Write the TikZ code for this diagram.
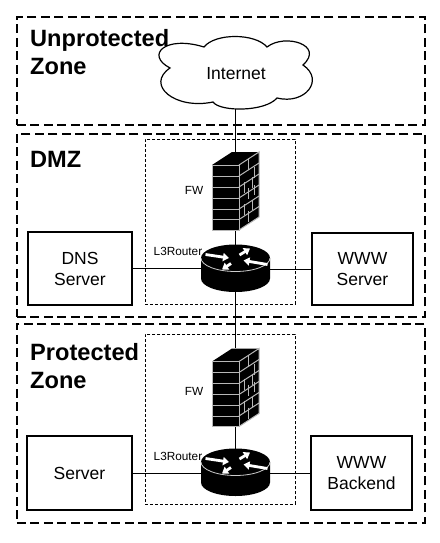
\documentclass[tikz,border=0pt]{standalone}
\usepackage{fontspec}
\setmainfont{Liberation Sans}
\usetikzlibrary{positioning,arrows.meta}
\tikzset{
  x=1pt,y=-1pt,
  zone/.style={draw,line width=1.6pt,dash pattern=on 9pt off 4.5pt,inner sep=0pt,anchor=north west},
  inner zone/.style={draw,line width=.7pt,dash pattern=on 3pt off 2pt,inner sep=0pt,anchor=north west},
  serverbox/.style={draw,line width=1.5pt,fill=white,inner sep=0pt,align=center,font=\fontsize{17.5}{21}\selectfont},
  zonelabel/.style={anchor=north west,inner sep=0pt,align=left,font=\fontsize{23.6}{28}\selectfont\bfseries},
  smalllabel/.style={inner sep=0pt,font=\fontsize{11.8}{13}\selectfont},
  anchorbox/.style={inner sep=0pt,minimum width=#1},
  link/.style={line width=.9pt},
  brick/.style={draw=white!72!black,line width=1pt},
  firewall/.pic={
    \fill[black] (-23.5,-26) -- (3.5,-26) -- (3.5,39) -- (-23.5,39) -- cycle;
    \fill[black] (-23.5,-26) -- (3.5,-26) -- (23.5,-39) -- (-3.5,-39) -- cycle;
    \fill[black] (3.5,-26) -- (23.5,-39) -- (23.5,26) -- (3.5,39) -- cycle;
    \draw[brick] (-23.5,-26) rectangle (3.5,39);
    \draw[brick] (3.5,-26) -- (23.5,-39) -- (23.5,26) -- (3.5,39);
    \draw[brick] (-23.5,-15) -- (3.5,-15) (-23.5,-4) -- (3.5,-4) (-23.5,7) -- (3.5,7)
      (-23.5,18) -- (3.5,18) (-23.5,28.5) -- (3.5,28.5);
    \draw[brick] (3.5,-15) -- (23.5,-28) (3.5,-4) -- (23.5,-17) (3.5,7) -- (23.5,-6)
      (3.5,18) -- (23.5,5) (3.5,28.5) -- (23.5,15.5);
    \draw[brick] (13,-32) -- (13,-21) (19,-24) -- (19,-13)
      (9,-9) -- (9,2) (17,-14) -- (17,-3) (13,-3) -- (13,8) (19,-6) -- (19,4)
      (9,13) -- (9,24) (17,9) -- (17,19) (13,20) -- (13,31);
  },
  router/.pic={
    \fill[black] (-34.5,-10.5) -- (-34.5,10) arc[start angle=180,end angle=0,x radius=34.5,y radius=13.5]
      -- (34.5,-10.5) -- cycle;
    \fill[black] (0,-10.5) ellipse[x radius=34.5,y radius=13.5];
    \draw[white!80!black,line width=.8pt] (-34.5,-10.5) arc[start angle=180,end angle=0,x radius=34.5,y radius=13.5];
    \foreach \a/\b/\c/\d in {-30/-14/-6.5/-10.5, 32/-4/8/-8, 4/-13.5/14.5/-20, -4.5/-5/-13.5/1}{
      \draw[white,line width=2.8pt,-{Triangle[width=8pt,length=6pt]}] (\a,\b) -- (\c,\d);
    }
  },
}
\begin{document}
\begin{tikzpicture}
\useasboundingbox (0,0) rectangle (439,543);
\fill[white] (0,0) rectangle (439,543);
\node[zone,minimum width=408pt,minimum height=108pt] (zoneA) at (16,16) {};
\node[zone,minimum width=408pt,minimum height=183pt] (zoneB) at (16,133) {};
\node[zone,minimum width=408pt,minimum height=199pt] (zoneC) at (16,323) {};
\node[inner zone,minimum width=150pt,minimum height=165pt] (innerB) at (145,139) {};
\node[inner zone,minimum width=150pt,minimum height=170pt] (innerC) at (145,334) {};

% anchors for the icons
\node[anchorbox=47pt,minimum height=78pt] (fwB) at (235.5,191) {};
\node[anchorbox=69pt,minimum height=46pt] (rtB) at (235.5,268.5) {};
\node[anchorbox=47pt,minimum height=78pt] (fwC) at (235.5,387.5) {};
\node[anchorbox=69pt,minimum height=46pt] (rtC) at (235.5,472.5) {};
\node[inner sep=0pt,minimum width=150pt,minimum height=72pt] (cloud) at (235.5,73) {};

\node[serverbox,minimum width=104pt,minimum height=73pt] (dns) at (80,268.5) {DNS\\Server};
\node[serverbox,minimum width=101pt,minimum height=72pt] (www) at (362.5,269) {WWW\\Server};
\node[serverbox,minimum width=105pt,minimum height=74pt] (srv) at (79.5,473) {Server};
\node[serverbox,minimum width=101pt,minimum height=74pt] (bak) at (361.5,473) {WWW\\Backend};

\draw[link] (cloud.south) -- (fwB.north);
\draw[link] (fwB.south) -- (rtB.north);
\draw[link] (rtB.south) -- (fwC.north);
\draw[link] (fwC.south) -- (rtC.north);
\draw[link] (dns.east) -- (dns.east -| rtB.west);
\draw[link] (www.west -| rtB.east) -- (www.west);
\draw[link] (srv.east) -- (srv.east -| rtC.west);
\draw[link] (bak.west -| rtC.east) -- (bak.west);

\draw[line width=1.2pt,fill=white]
  (204,47) .. controls (215,33) and (255,33) .. (267,47)
  .. controls (285,33) and (325,45) .. (303,65)
  .. controls (325,80) and (305,105) .. (277,98)
  .. controls (265,112) and (220,112) .. (213,102)
  .. controls (175,110) and (145,85) .. (170,68)
  .. controls (145,55) and (165,35) .. (204,47) -- cycle;
\node[inner sep=0pt,font=\fontsize{17.5}{21}\selectfont] (inet) at (236,74) {Internet};

\pic at (fwB.center) {firewall};
\pic at (rtB.center) {router};
\pic at (fwC.center) {firewall};
\pic at (rtC.center) {router};

\node[zonelabel] (la) at (30,29) {Unprotected\\Zone};
\node[zonelabel] (lb) at (30,151) {DMZ};
\node[zonelabel] (lc) at (30,343.5) {Protected\\Zone};
\node[smalllabel] (fw1) at (194,190.5) {FW};
\node[smalllabel] (fw2) at (194,391.5) {FW};
\node[smalllabel,anchor=west] (rt1) at (153.5,251.5) {L3Router};
\node[smalllabel,anchor=west] (rt2) at (153.5,456) {L3Router};
\end{tikzpicture}
\end{document}
